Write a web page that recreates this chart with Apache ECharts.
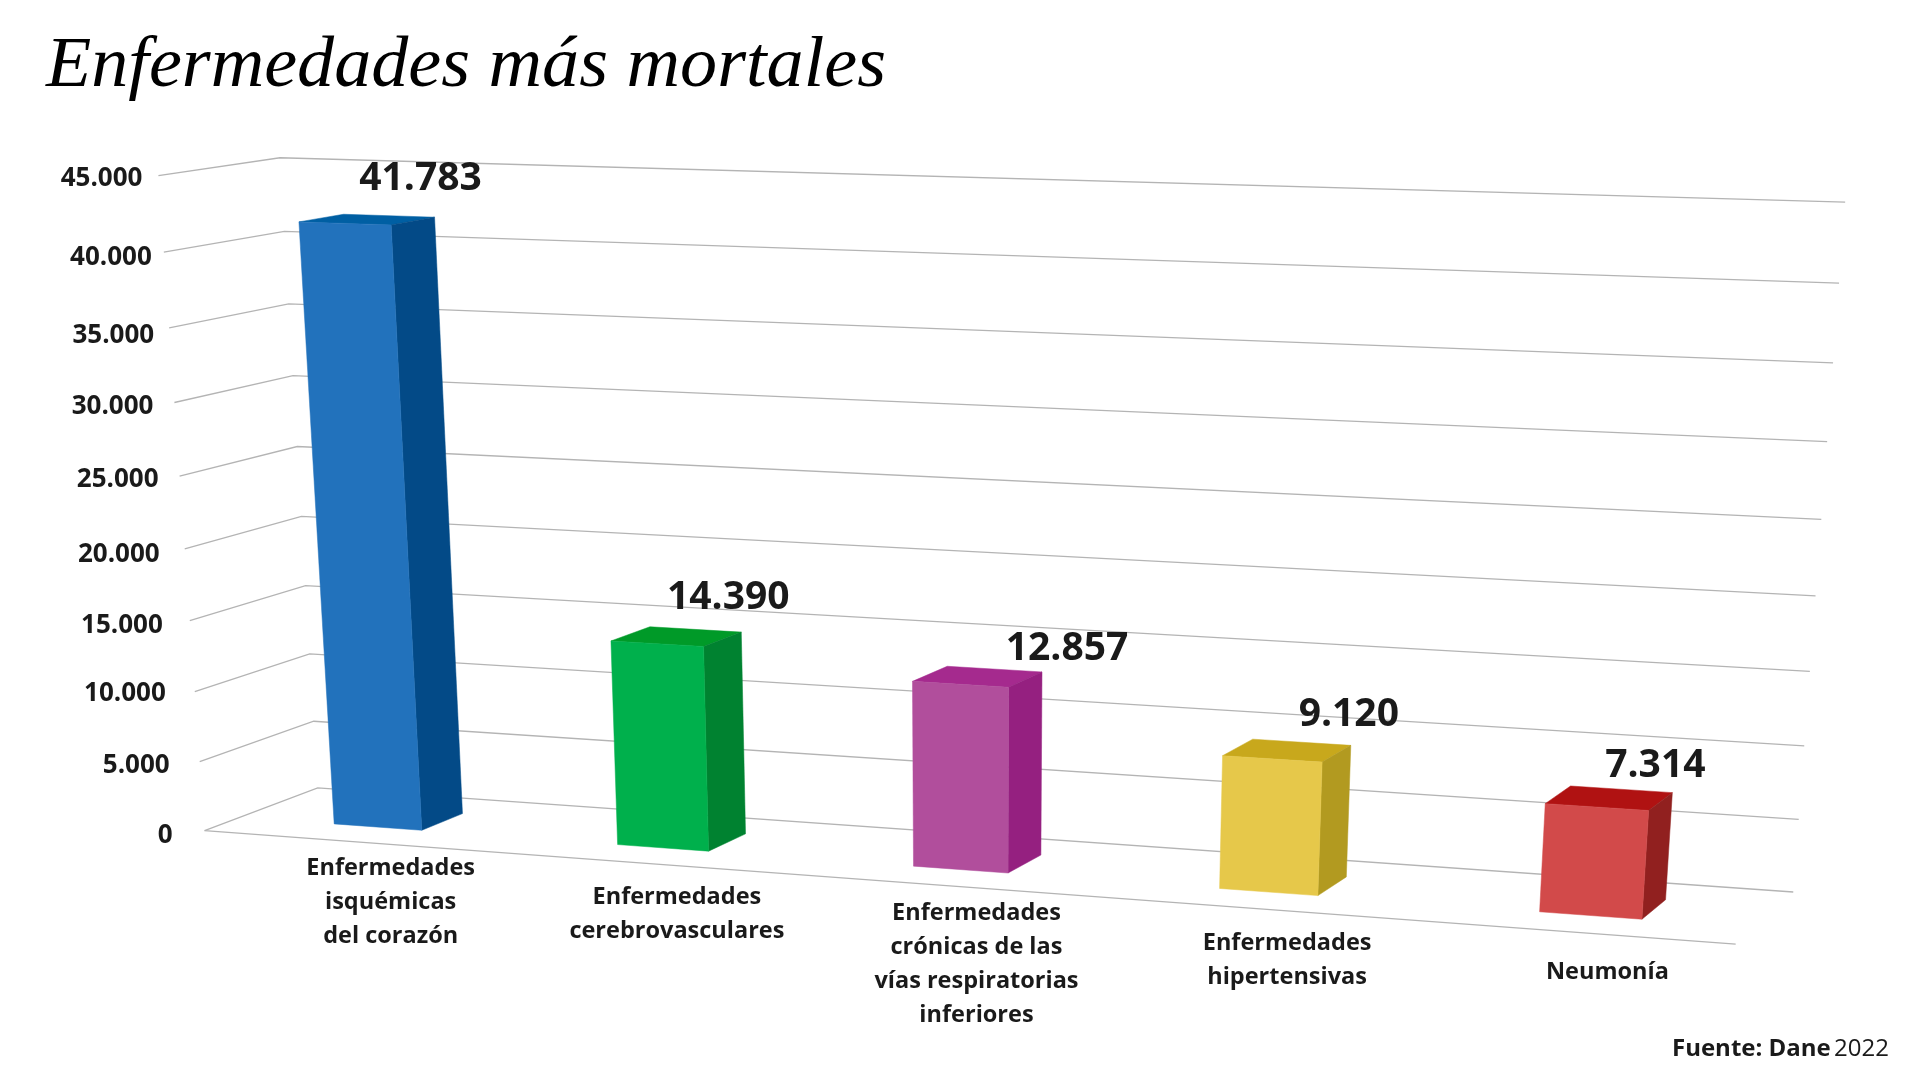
<!DOCTYPE html>
<html><head><meta charset="utf-8">
<style>html,body{margin:0;padding:0;background:#fff}#c{width:1920px;height:1080px}</style>
<script src="https://cdn.jsdelivr.net/npm/echarts@6/dist/echarts.min.js"></script>
</head><body><div id="c"></div>
<script>
// ---- data ----
const categories=["Enfermedades\nisquémicas\ndel corazón","Enfermedades\ncerebrovasculares","Enfermedades\ncrónicas de las\nvías respiratorias\ninferiores","Enfermedades\nhipertensivas","Neumonía"];
const deaths=[41783,14390,12857,9120,7314];
const tickValues=[0,5000,10000,15000,20000,25000,30000,35000,40000,45000];
const tickLabels=["0","5.000","10.000","15.000","20.000","25.000","30.000","35.000","40.000","45.000"];
// ---- style ----
const barColors=[["#2272BC","#034A87","#005FA3"],["#00B04C","#008230","#009A28"],["#B14E9C","#952080","#A52A8E"],["#E6C84A","#B29A20","#C8A81C"],["#D24A4A","#91201F","#B01212"]];
// scene-unit bar shape: small shift from the band centre, half width, front / back depth
const barShift=[-0.001,-0.001,0,0,0.001];
const BAR_HALF=0.0313,BAR_FRONT=0.31,BAR_BACK=0.69;
const valueNudge=[[-14,-38],[-13,-34],[25,-23],[-2,-30],[-17,-27]];
const catNudge=[[46,10],[44,18],[44,12],[43,19],[39,24]];
const tickNudge=[[-32,5],[-30,4],[-29,2],[-27,5],[-25,6],[-21,3],[-21,4],[-15,8],[-12,5],[-16,3]];
const FONT="Open Sans",INK="#1a1a1a",GRID="#b4b4b4";
// camera: (X,Y,Z) scene units -> page pixels
const CAM=[[1368.3915,-55.100202,126.24917,204.57278],[24.835889,-665.07084,-10.314682,830.71948],[-0.093742201,-0.056512392,0.041297967,1]];
const proj=(X,Y,Z)=>{const w=CAM[2][0]*X+CAM[2][1]*Y+CAM[2][2]*Z+1;return[(CAM[0][0]*X+CAM[0][1]*Y+CAM[0][2]*Z+CAM[0][3])/w,(CAM[1][0]*X+CAM[1][1]*Y+CAM[1][2]*Z+CAM[1][3])/w];};
// the hidden cartesian grid provides the scales; its unit square is then projected
const G={l:100,t:100,w:1000,h:500};
const model=(api,i,v)=>{const p=api.coord([i,v]);return[(p[0]-G.l)/G.w,(G.t+G.h-p[1])/G.h];};
const fmt=v=>String(v).replace(/\B(?=(\d{3})+$)/g,".");
const TITLE="Enfermedades más mortales";
const ctx=document.createElement("canvas").getContext("2d");ctx.font='italic 72px "Liberation Serif"';
const titleScale=840/ctx.measureText(TITLE).width;
const line=(pts)=>({type:"polyline",shape:{points:pts},style:{stroke:GRID,lineWidth:1.3,fill:null}});
const chart=echarts.init(document.getElementById('c'));
chart.setOption({backgroundColor:"#fff",animation:false,
 grid:{left:G.l,top:G.t,width:G.w,height:G.h,show:false},
 xAxis:{type:"category",data:categories,show:false},
 yAxis:{type:"value",min:0,max:45000,interval:5000,show:false},
 graphic:[
  {type:"text",x:46,y:67,scaleX:titleScale,style:{text:TITLE,fontFamily:"Liberation Serif",fontStyle:"italic",fontSize:72,fill:"#000",verticalAlign:"middle"}},
  {type:"text",x:1889,y:1049,style:{text:"{b|Fuente: Dane} {r|2022}",align:"right",verticalAlign:"middle",rich:{b:{fontFamily:FONT,fontWeight:700,fontSize:24,fill:INK},r:{fontFamily:FONT,fontWeight:400,fontSize:24,fill:INK}}}}
 ],
 series:[
 {type:"custom",silent:true,data:tickValues.map(v=>[0,v]),encode:{x:0,y:1},renderItem(p,api){const Y=model(api,0,api.value(1))[1];return line([proj(0,Y,0),proj(0,Y,1),proj(1,Y,1)]);}},
 {type:"custom",silent:true,data:[[0,0]],encode:{x:0,y:1},renderItem(p,api){return line([proj(0,0,0),proj(1,0,0)]);}},
 {type:"custom",silent:true,data:deaths.map((v,i)=>[i,v]),encode:{x:0,y:1},renderItem(p,api){const i=api.value(0);const [xc0,Y]=model(api,i,api.value(1));
   const xc=xc0+barShift[i],x0=xc-BAR_HALF,x1=xc+BAR_HALF,z0=BAR_FRONT,z1=BAR_BACK,c=barColors[i];
   const q=(a,b)=>({type:"polygon",shape:{points:a},style:{fill:b,stroke:b,lineWidth:0.5}});
   return {type:"group",children:[
    q([proj(x0,Y,z0),proj(x1,Y,z0),proj(x1,Y,z1),proj(x0,Y,z1)],c[2]),
    q([proj(x1,Y,z0),proj(x1,Y,z1),proj(x1,0,z1),proj(x1,0,z0)],c[1]),
    q([proj(x0,Y,z0),proj(x1,Y,z0),proj(x1,0,z0),proj(x0,0,z0)],c[0])]};}},
 {type:"custom",silent:true,data:deaths.map((v,i)=>[i,v]),encode:{x:0,y:1},renderItem(p,api){const i=api.value(0),v=api.value(1);const [xc0,Y]=model(api,i,v);
   const a=proj(xc0+barShift[i]+BAR_HALF,Y,BAR_BACK);
   return {type:"text",style:{text:fmt(v),x:a[0]+valueNudge[i][0],y:a[1]+valueNudge[i][1],align:"center",verticalAlign:"middle",fontFamily:FONT,fontWeight:700,fontSize:39,fill:INK}};}},
 {type:"custom",silent:true,data:tickValues.map((v,i)=>[0,v,i]),encode:{x:0,y:1},renderItem(p,api){const k=api.value(2),Y=model(api,0,api.value(1))[1];const a=proj(0,Y,0);
   return {type:"text",style:{text:tickLabels[k],x:a[0]+tickNudge[k][0],y:a[1]+tickNudge[k][1],align:"right",verticalAlign:"middle",fontFamily:FONT,fontWeight:700,fontSize:26,fill:INK}};}},
 {type:"custom",silent:true,data:categories.map((c,i)=>[i,0]),encode:{x:0,y:1},renderItem(p,api){const i=api.value(0);const a=proj(model(api,i,0)[0],0,0);
   return {type:"text",style:{text:categories[i],x:a[0]+catNudge[i][0],y:a[1]+catNudge[i][1],align:"center",verticalAlign:"top",lineHeight:34,fontFamily:FONT,fontWeight:700,fontSize:23.5,fill:INK}};}}
 ]});
</script></body></html>
